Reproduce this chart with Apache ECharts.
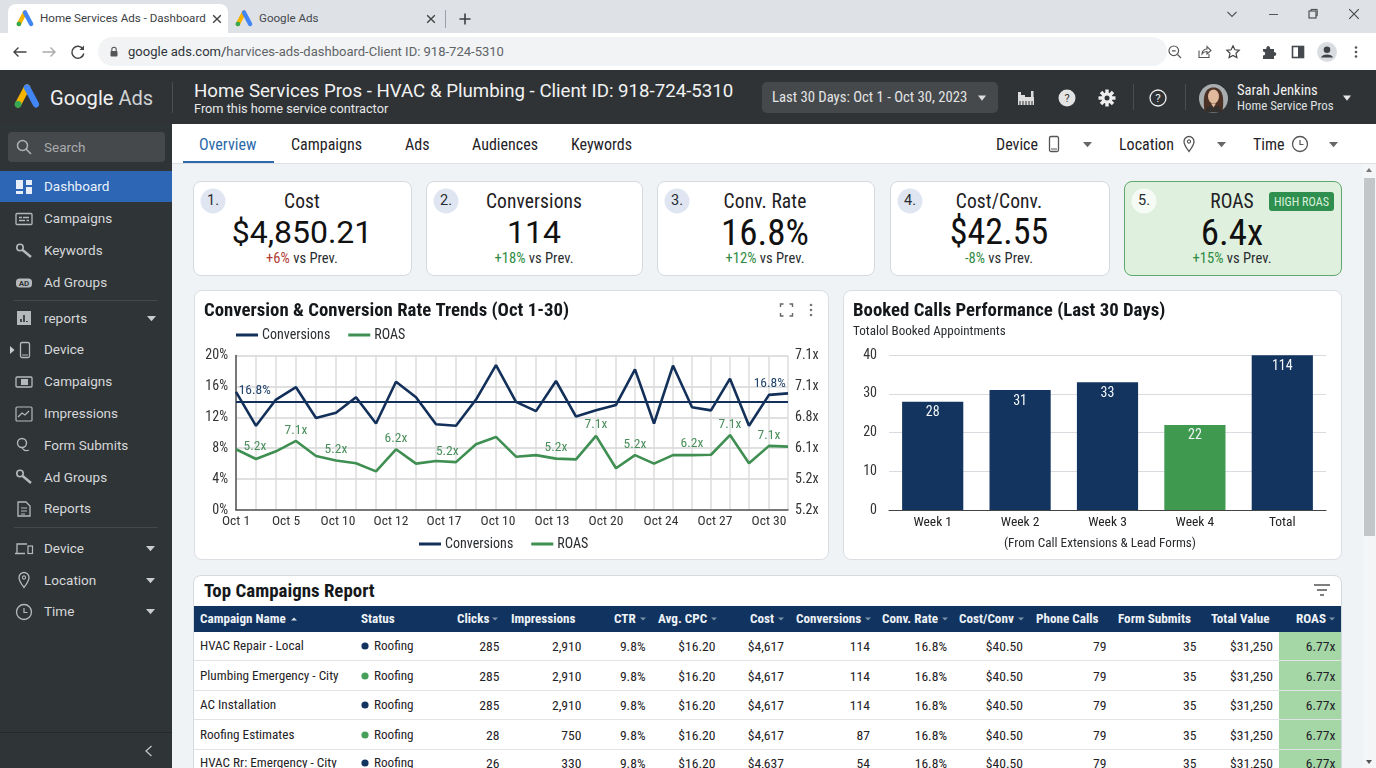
<!doctype html>
<html><head><meta charset="utf-8"><title>Home Services Ads - Dashboard</title>
<script src="https://cdn.jsdelivr.net/npm/echarts@6/dist/echarts.min.js"></script>
<style>
html,body{margin:0;padding:0;width:1376px;height:768px;overflow:hidden;background:#f0f3f5;font-family:'Roboto Condensed',Roboto,sans-serif;color:#1f2226}
.b{position:absolute;box-sizing:border-box}
.t{position:absolute;white-space:nowrap;line-height:1.2}
svg.i{position:absolute;overflow:visible;fill:none}
</style></head><body>
<div id="page"></div>
<div id="trend" class="b" style="left:194px;top:290px;width:634px;height:269px"></div>
<div id="calls" class="b" style="left:843px;top:290px;width:498px;height:269px"></div>
<script>
// ---- Line chart data
const trendTickLabels=['Oct 1','Oct 5','Oct 10','Oct 12','Oct 17','Oct 10','Oct 13','Oct 20','Oct 24','Oct 27','Oct 30'];
const trendTickPos=[0,2.5,5.1,7.75,10.4,13.1,15.8,18.5,21.25,23.95,26.65];
const samplePos=[0,1,2,3,4,5,6,7,8,9,10,11,12,13,14,15,16,17,18,19,19.95,20.9,21.85,22.8,23.75,24.7,25.65,26.65,27.6];
const conversionsValues=[15.3,10.9,14.3,15.9,11.9,12.6,14.6,11.2,16.6,14.6,11.1,10.9,14.3,18.75,14.0,12.8,16.7,12.1,12.9,13.6,18.2,11.2,18.7,13.3,12.9,17.0,10.9,14.9,15.1];
const roasValues=[7.86,6.6,7.6,8.94,7.0,6.4,6.05,5.0,7.86,6.0,6.35,6.2,8.5,9.46,6.9,7.1,6.65,6.55,9.6,5.4,7.1,6.0,7.1,7.1,7.15,9.7,6.05,8.3,8.2];
const conversionsTarget=14;
const conversionsNotes={0:'16.8%',27:'16.8%'};
const roasNotes={1:'5.2x',3:'7.1x',5:'5.2x',8:'6.2x',11:'5.2x',16:'5.2x',18:'7.1x',20:'5.2x',23:'6.2x',25:'7.1x',27:'7.1x'};
const rightAxisLabels=['5.2x','5.2x','6.1x','6.8x','7.1x','7.1x'];
// ---- Bar chart data
const weekLabels=['Week 1','Week 2','Week 3','Week 4','Total'];
const bookedCalls=[28,31,33,22,114];
// ---- KPI cards
const kpiNames=['Cost','Conversions','Conv. Rate','Cost/Conv.','ROAS'];
const kpiValues=['$4,850.21','114','16.8%','$42.55','6.4x'];
const kpiDeltas=['+6%','+18%','+12%','-8%','+15%'];
// ---- Table
const tableHeaders=['Campaign Name','Status','Clicks','Impressions','CTR','Avg. CPC','Cost','Conversions','Conv. Rate','Cost/Conv','Phone Calls','Form Submits','Total Value','ROAS'];
const campaignNames=['HVAC Repair - Local','Plumbing Emergency - City','AC Installation','Roofing Estimates','HVAC Rr: Emergency - City'];
const campaignStatus=['Roofing','Roofing','Roofing','Roofing','Roofing'];
const campaignClicks=['285','285','285','28','26'];
const campaignImpressions=['2,910','2,910','2,910','750','330'];
const campaignCTR=['9.8%','9.8%','9.8%','9.8%','9.8%'];
const campaignCPC=['$16.20','$16.20','$16.20','$16.20','$16.20'];
const campaignCost=['$4,617','$4,617','$4,617','$4,617','$4,637'];
const campaignConversions=['114','114','114','87','54'];
const campaignConvRate=['16.8%','16.8%','16.8%','16.8%','16.8%'];
const campaignCostConv=['$40.50','$40.50','$40.50','$40.50','$40.50'];
const campaignPhone=['79','79','79','79','79'];
const campaignForms=['35','35','35','35','35'];
const campaignValue=['$31,250','$31,250','$31,250','$31,250','$31,250'];
const campaignROAS=['6.77x','6.77x','6.77x','6.77x','6.77x'];
const sideItems=[['Dashboard',186.5,'dash'],['Campaigns',218.5,'card'],['Keywords',250.5,'wrench'],['Ad Groups',282.5,'ad'],['reports',318,'bars'],['Device',349.5,'phone'],['Campaigns',381.5,'screen'],['Impressions',413.5,'trend'],['Form Submits',445,'search'],['Ad Groups',477,'wrench'],['Reports',508.5,'doc'],['Device',548,'laptop'],['Location',580,'pin'],['Time',611.5,'clock']];

const page=document.getElementById('page');
const RC="'Roboto Condensed',Roboto,sans-serif",RB="Roboto,sans-serif";
function box(x,y,w,h,css){const d=document.createElement('div');d.className='b';d.style.cssText=`left:${x}px;top:${y}px;width:${w}px;height:${h}px;${css||''}`;page.appendChild(d);return d;}
function text(x,y,s,size,color,o={}){const d=document.createElement('div');d.className='t';const tx=o.align==='r'?'-100%':o.align==='c'?'-50%':'0';
 d.style.cssText=`left:${x}px;top:${y+0.7}px;transform:translate(${tx},-50%);font-size:${size}px;color:${color};font-family:${o.font||RC};font-weight:${o.weight||400};${o.css||''}`;
 if(o.html)d.innerHTML=s;else d.textContent=s;page.appendChild(d);return d;}
function svg(cx,cy,s,inner,extra){const d=document.createElementNS('http://www.w3.org/2000/svg','svg');d.setAttribute('class','i');d.setAttribute('viewBox',`-${s/2} -${s/2} ${s} ${s}`);d.style.cssText=`left:${cx-s/2}px;top:${cy-s/2}px;width:${s}px;height:${s}px;${extra||''}`;d.innerHTML=inner;page.appendChild(d);}
function caret(x,y,c='#c8cbce',w=5){svg(x,y,w*2+2,`<path d="M${-w} -2.5 L${w} -2.5 L0 2.8 Z" fill="${c}"/>`);}
function gLogo(cx,cy,k){svg(cx,cy,30,`<g transform="scale(${k})"><path d="M0 -9 L-8.5 7" stroke="#f4b400" stroke-width="6" stroke-linecap="round"/><path d="M0 -9 L8.5 7" stroke="#4285f4" stroke-width="6" stroke-linecap="round"/><circle cx="-8.5" cy="7" r="3.2" fill="#34a853"/></g>`);}
const ic=(c)=>({
 dash:`<path d="M-8 -7h7v9h-7zM2 -7h6v5h-6zM2 0h6v7h-6zM-8 4h7v3h-7z" fill="#e8eef8"/>`,
 card:`<rect x="-8" y="-5.5" width="16" height="11" rx="1" stroke="${c}" stroke-width="1.3"/><path d="M-5 -1.5h3M-1 -1.5h6M-5 1.5h6M2.5 1.5h2.5" stroke="${c}" stroke-width="1.3"/>`,
 wrench:`<circle cx="-4" cy="-3.5" r="3.2" stroke="${c}" stroke-width="1.6"/><path d="M-2 -1.5L7 6" stroke="${c}" stroke-width="2.5"/>`,
 ad:`<rect x="-8" y="-4.5" width="16" height="9" rx="3.5" fill="${c}"/><text x="0" y="3" text-anchor="middle" font-size="8" font-weight="700" fill="#2f3437" font-family="Roboto">AD</text>`,
 bars:`<rect x="-7" y="-7" width="14" height="14" fill="${c}"/><path d="M-3 4v-3M0 4v-7M3 4v-1" stroke="#2f3437" stroke-width="1.7"/>`,
 phone:`<rect x="-4.5" y="-7.5" width="9" height="15" rx="1.5" stroke="${c}" stroke-width="1.3"/><path d="M-3 5h6" stroke="${c}"/>`,
 screen:`<rect x="-8" y="-5" width="16" height="10" rx="1" stroke="${c}" stroke-width="1.3"/><rect x="-3" y="-3" width="7" height="6" fill="${c}"/>`,
 trend:`<rect x="-8" y="-7" width="16" height="14" rx="1" stroke="${c}" stroke-width="1.2"/><path d="M-6 3L-2 -1L1 1L5 -3" stroke="${c}" stroke-width="1.2"/>`,
 search:`<circle cx="-2" cy="-2" r="4.5" stroke="${c}" stroke-width="1.4"/><path d="M-2 3c2 3 5 3 7 2" stroke="${c}" stroke-width="1.2"/>`,
 doc:`<path d="M-6 -7h8l4 4v10h-12z" stroke="${c}" stroke-width="1.3"/><path d="M-3 -1h6M-3 2h6M-3 5h4" stroke="${c}" stroke-width="1.1"/>`,
 laptop:`<path d="M-7 5v-9h10M-9 5.5h10" stroke="${c}" stroke-width="1.3"/><rect x="4" y="-2" width="4.5" height="7.5" stroke="${c}" stroke-width="1.2"/>`,
 pin:`<path d="M0 7.5C-3 3.5 -5 1 -5 -2.5a5 5 0 0 1 10 0C5 1 3 3.5 0 7.5z" stroke="${c}" stroke-width="1.3"/><circle cy="-2.5" r="1.6" stroke="${c}" stroke-width="1.1"/>`,
 clock:`<circle r="7.5" stroke="${c}" stroke-width="1.3"/><path d="M0 -4V0.5H3.5" stroke="${c}" stroke-width="1.2"/>`
});

// ---- browser chrome
box(0,0,1376,34,'background:#dee1e6');
box(8,4,220,30,'background:#fff;border-radius:8px 8px 0 0');
box(0,33,1376,37,'background:#fff');
box(98,37,1069,29,'background:#f1f3f4;border-radius:15px');
gLogo(25,19,.72);gLogo(244,19,.72);
text(40,18.5,'Home Services Ads - Dashboard',11.6,'#3c4043',{font:RB});
text(259,18.5,'Google Ads',11.6,'#45494d',{font:RB});
const X=(x,y,c='#444',r=3.8,w=1.4)=>svg(x,y,12,`<path d="M${-r} ${-r}L${r} ${r}M${r} ${-r}L${-r} ${r}" stroke="${c}" stroke-width="${w}"/>`);
X(217,19);X(431,19);box(445,10,1,18,'background:#9aa0a6');
svg(465,19,14,`<path d="M-5.5 0H5.5M0 -5.5V5.5" stroke="#3c4043" stroke-width="1.6"/>`);
svg(1232,14,12,`<path d="M-4.5 -2L0 2.5L4.5 -2" stroke="#555" stroke-width="1.1"/>`);
box(1269,14,9,1.2,'background:#555');
svg(1313,14,12,`<rect x="-4" y="-3" width="7" height="7" stroke="#444" stroke-width="1.1"/><path d="M-2 -3v-1.6h6.2v6.4h-1.2" stroke="#444" stroke-width="1"/>`);
X(1354,14,'#444',4.8,1.1);
svg(20,52,16,`<path d="M6.5 0H-6M-1.5 -4.5L-6 0L-1.5 4.5" stroke="#444" stroke-width="1.4"/>`);
svg(49,52,16,`<path d="M-6.5 0H6M1.5 -4.5L6 0L1.5 4.5" stroke="#aaa" stroke-width="1.4"/>`);
svg(78,52,16,`<path d="M5 -3A6 6 0 1 0 5.8 1.5" stroke="#444" stroke-width="1.5"/><path d="M6 -6.5V-2H1.5" fill="#444"/>`);
svg(114,52,12,`<rect x="-3.5" y="-1" width="7" height="5.5" rx="1" fill="#555"/><path d="M-2.2 -1v-1.5a2.2 2.2 0 0 1 4.4 0V-1" stroke="#555" stroke-width="1.1"/>`);
text(128,51.5,'<span style="color:#30343a">google ads.com/</span>harvices-ads-dashboard-Client ID: 918-724-5310',13.03,'#5f6368',{font:RB,html:true});
svg(1175,52,16,`<circle cx="-1.2" cy="-1.2" r="4.8" stroke="#555" stroke-width="1.2"/><path d="M2.5 2.5L6 6M-3 -1.2H.7" stroke="#555" stroke-width="1.2"/>`);
svg(1204,52,16,`<path d="M-5 -1.5V5.5H5V2" stroke="#555" stroke-width="1.1"/><path d="M-2 2C-2 -1.5 1 -3 3 -3V-5.5L7 -1.5L3 2V-.5C1 -.5 -1 .5 -2 2z" stroke="#555" stroke-width="1.1"/>`);
svg(1233,52,16,`<path d="M0 -6.2L1.9 -2.2L6.2 -1.7L3 1.3L3.9 5.6L0 3.5L-3.9 5.6L-3 1.3L-6.2 -1.7L-1.9 -2.2Z" stroke="#444" stroke-width="1.2"/>`);
svg(1269,52,16,`<path d="M-6 -3h3.2c0-4 4-4 4 0H5v3c3 0 3 4 0 4v3H-6V3.5c3 0 3-4 0-4z" fill="#45494d"/>`);
svg(1298,52,16,`<rect x="-5.5" y="-5.5" width="11" height="11" stroke="#45494d" stroke-width="1.6"/><rect x="0" y="-5" width="5" height="10" fill="#45494d"/>`);
svg(1327,52,22,`<circle r="10" fill="#d9dde2"/><circle cy="-2.2" r="3.3" fill="#3f4347"/><path d="M-6 5.5c1-4 11-4 12 0z" fill="#3f4347"/>`);
svg(1356,52,12,`<circle cy="-4.5" r="1.3" fill="#555"/><circle r="1.3" fill="#555"/><circle cy="4.5" r="1.3" fill="#555"/>`);

// ---- app header
box(0,70,1376,54,'background:#2f3336');
gLogo(27,97,1.05);
text(50,97,'<span style="color:#f1f1f1">Google</span> <span style="color:#cfd2d4">Ads</span>',20.1,'#eee',{font:RB,html:true});
box(172,82,1,31,'background:#4a4e51');
text(194,90,'Home Services Pros - HVAC &amp; Plumbing - Client ID: 918-724-5310',18.68,'#f2f2f2',{font:RB,html:true});
text(194,108.7,'From this home service contractor',12.75,'#e8e8e8',{font:RB});
box(762,82,236,31,'background:#46494c;border-radius:5px');
text(772,97.5,'Last 30 Days: Oct 1 - Oct 30, 2023',14.7,'#e4e5e6');
caret(982,98,'#ddd',4);
svg(1026,98,20,`<path d="M-8 7V-3L-8 -6H-5V-3L-1 -3L-1 -1L8 -1V7Z" fill="#ddd"/><path d="M-6 3v4M-3 3v4M0 3v4M3 3v4M6 3v4" stroke="#2f3336" stroke-width="1"/><path d="M5 -7h2.5V-1H5z" fill="#ddd"/>`);
svg(1067,98,20,`<circle r="8.5" fill="#e3e3e3"/><text y="4" text-anchor="middle" font-size="11" fill="#333" font-family="Roboto">?</text>`);
svg(1107,98,20,`<g fill="#eee"><circle r="5.6"/>${[0,45,90,135].map(a=>`<rect x="-1.7" y="-8.5" width="3.4" height="17" transform="rotate(${a})"/>`).join('')}</g><circle r="2.5" fill="#2f3336"/>`);
box(1133,84,1,26,'background:#4a4e51');
svg(1158,98,20,`<circle r="8" stroke="#eee" stroke-width="1.3"/><text y="4" text-anchor="middle" font-size="11.5" fill="#eee" font-family="Roboto">?</text>`);
box(1185,84,1,26,'background:#4a4e51');
svg(1213,98,29,`<circle r="14.5" fill="#a8adb0"/><path d="M-9 13C-11 -2 -9 -11 0 -11S11 -2 9 13Z" fill="#4b3126"/><ellipse cy="-2" rx="5.5" ry="7" fill="#e0b89c"/><path d="M-9 14c1-6 5-7 9-7s8 1 9 7z" fill="#33302e"/><path d="M-2.5 5h5l-2.5 4z" fill="#e0b89c"/>`);
text(1237,90,'Sarah Jenkins',14.6,'#f1f1f1');
text(1237,105.5,'Home Service Pros',12.9,'#dfe0e1');
caret(1347,98,'#e8e8e8',4);

// ---- sidebar
box(0,124,172,644,'background:#2f3437');
box(8,132,157,30,'background:#46494c;border-radius:4px');
svg(24,147,18,`<circle cx="-1.5" cy="-1.5" r="5" stroke="#b0b3b5" stroke-width="1.5"/><path d="M2 2L7 7" stroke="#b0b3b5" stroke-width="1.6"/>`);
text(44,146.5,'Search',13.5,'#a8abad',{font:RB});
box(0,171,172,31,'background:#2c66b5');
const icons=ic('#b6b9bb');
sideItems.forEach(([label,y,icon],i)=>{svg(i==5?25:24,y,20,icons[icon]);text(44,y-1.2,label,13.5,i==0?'#eaf1fc':'#d6d8da',{font:RB});});
box(14,300,144,1,'background:#44484b');box(14,526.5,144,1,'background:#44484b');box(0,732,172,1,'background:#26292b');
caret(151,318,'#c9cbcd',4.5);caret(150,548,'#c9cbcd',4.5);caret(150,580,'#c9cbcd',4.5);caret(150,611.5,'#c9cbcd',4.5);
svg(12,349.5,8,`<path d="M-2 -4L2.5 0L-2 4Z" fill="#c9cbcd"/>`);
svg(149,751,12,`<path d="M2.5 -5L-3 0L2.5 5" stroke="#c0c2c4" stroke-width="1.3"/>`);

// ---- tab bar
box(172,124,1204,39.5,'background:#fff;border-bottom:1px solid #dde1e5');
[['Overview',199],['Campaigns',291],['Ads',405],['Audiences',472],['Keywords',571]].forEach(([s,x],i)=>text(x,143.8,s,16,i?'#1f2226':'#2a69ac'));
box(183,161,91,2,'background:#2f68ad');
const ic2=ic('#555');
text(996,143.8,'Device',16,'#1f2226');svg(1054,144,20,ic2.phone);caret(1087,144,'#666',4.5);
text(1119,143.8,'Location',16,'#1f2226');svg(1189,144,20,ic2.pin);caret(1221,144,'#666',4.5);
text(1253,143.8,'Time',16,'#1f2226');svg(1300,144,20,ic2.clock);caret(1333,144,'#666',4.5);

// ---- scrollbar
box(1363,164,13,604,'background:#f3f5f6');
box(1364,177.5,11,358.5,'background:#c3c6c8');
svg(1369,170,8,`<path d="M-3 2L0 -2L3 2Z" fill="#777"/>`);svg(1369,762,8,`<path d="M-3 -2L0 2L3 -2Z" fill="#555"/>`);

// ---- KPI cards
[[193,219],[426,217],[657,218],[890,219.5],[1124,218]].forEach(([x,w],i)=>{
 const hi=i==4,cx=[302,534,765,999,1232][i];
 box(x,181,w,94.5,`background:${hi?'#dff0de':'#fff'};border:1px solid ${hi?'#5ea86d':'#d5dadf'};border-radius:8px`);
 svg(x+20,201,26,`<circle r="12.5" fill="${hi?'#f7fbf6':'#dfe6f1'}"/>`);
 text(x+20,200.5,(i+1)+'.',14.5,'#2a2d30',{align:'c',font:RB});
 text(cx,201,kpiNames[i],19.5,'#1e2023',{align:'c',css:'letter-spacing:.1px;'});
 text(cx,i<2?231:232,kpiValues[i],i<2?32:i==3?36:37,'#111',{align:'c',font:i<2?RB:RC});
 const c=i==0?'#b23b34':'#2e8b3f';
 text(cx,258.5,`<span style="color:${c}">${kpiDeltas[i]}</span> vs Prev.`,14.6,'#2a2d30',{align:'c',html:true});
});
box(1269,192,65,19,'background:#2f8f4e;border-radius:3px');
text(1301.5,201,'HIGH ROAS',12.2,'#d8f1dc',{align:'c'});

// ---- chart cards
box(194,290,634.5,269.5,'background:#fff;border:1px solid #dadee2;border-radius:8px');
box(843,290,498.5,269.5,'background:#fff;border:1px solid #dadee2;border-radius:8px');

// ---- table
box(193,575,1148.5,220,'background:#fff;border:1px solid #d5dadf;border-radius:8px');
text(204,589.8,'Top Campaigns Report',18.9,'#15181b',{weight:700});
svg(1322,590,20,`<path d="M-8 -5H8M-5 0H5M-2 5H2" stroke="#555" stroke-width="1.5"/>`);
box(194,606,1146.5,26,'background:#10335f');
const headLeft=[200,361,457,511,614,658,750,796,882,959,1036,1118,1211,1296];
const headCaret=[293.7,0,495,0,642.7,713.5,781,867.8,944.6,1021,0,0,0,1332];
tableHeaders.forEach((h,i)=>{text(headLeft[i],618.5,h,13.15,'#eef2f7',{weight:700});
 if(headCaret[i])svg(headCaret[i],619,8,i==0?`<path d="M-3 1.5L0 -1.5L3 1.5Z" fill="#dde3ea"/>`:`<path d="M-3 -1.5L0 1.5L3 -1.5Z" fill="#7e92ab"/>`);});
const rowY=[646,675.5,705,734.5,763];
box(1279,632,61.5,136,'background:#a4d6a6');
rowY.forEach((y,r)=>{
 text(200,y-.3,campaignNames[r],13.2,'#1f2226');
 svg(365,y,8,`<circle r="3.6" fill="${r%2?'#46a05a':'#12345f'}"/>`);
 text(374,y-.3,campaignStatus[r],13.2,'#1f2226');
 [[campaignClicks,499.5],[campaignImpressions,581.5],[campaignCTR,645.5],[campaignCPC,715.5],[campaignCost,784],[campaignConversions,870],[campaignConvRate,947],[campaignCostConv,1023],[campaignPhone,1106.5],[campaignForms,1196.5],[campaignValue,1273],[campaignROAS,1335.5]]
  .forEach(([a,x])=>text(x,y-.3,a[r],13.6,'#1f2226',{align:'r'}));
 if(r<4)box(194,y+14,1146.5,1.4,'background:#e1e4e6');
});

// ---- charts
const AXC='#333',NAVY='#12305a',GREEN='#3f8f52';
const labelStyle=(notes,offs,color)=>(v,i)=>notes[i]?{value:[samplePos[i],v],label:{show:true,position:'inside',formatter:notes[i],offset:offs[i],color,fontFamily:'Roboto Condensed',fontSize:13.5}}:{value:[samplePos[i],v]};
const convOffsets={0:[18.7,-1],27:[0.7,-10.8]};
const roasOffsets={1:[-1,-12.1],3:[0,-10.8],5:[0,-11.1],8:[0,-10.5],11:[-8.7,-10.9],16:[0,-10.8],18:[0,-11],20:[0,-11],23:[0,-11.5],25:[0,-10.5],27:[0,-10.5]};
const legendBase={icon:'rect',itemWidth:22,itemHeight:3,itemGap:18,textStyle:{fontFamily:'Roboto Condensed',fontSize:14,color:'#2a2d30',padding:[0,0,0,-1]},data:['Conversions','ROAS']};
const axisFont={fontFamily:'Roboto Condensed',color:AXC};
echarts.init(document.getElementById('trend')).setOption({
 animation:false,
 title:{text:'Conversion & Conversion Rate Trends (Oct 1-30)',left:5,top:7,textStyle:{fontFamily:'Roboto Condensed',fontWeight:700,fontSize:18.8,color:'#15181b'}},
 legend:[Object.assign({left:37,top:33},legendBase),Object.assign({left:220,top:242},legendBase)],
 grid:{left:42,right:40,top:65.5,bottom:49},
 xAxis:{type:'value',min:0,max:27.6,
  axisLine:{show:true,onZero:false,lineStyle:{color:'#555',width:1.5}},
  axisTick:{show:false,customValues:samplePos},
  splitLine:{show:true,lineStyle:{color:'#dcdcdc',width:1.5}},
  axisLabel:Object.assign({customValues:trendTickPos,formatter:(v)=>trendTickLabels[trendTickPos.indexOf(v)]||'',fontSize:13.5,margin:5,hideOverlap:false},axisFont)},
 yAxis:[
  {type:'value',min:0,max:20,interval:4,axisLine:{show:true,lineStyle:{color:'#555',width:1.5}},axisTick:{show:false},splitLine:{lineStyle:{color:'#d6d6d6',width:1.5}},
   axisLabel:Object.assign({formatter:'{value}%',fontSize:14,margin:8,padding:[4,0,0,0]},axisFont)},
  {type:'category',boundaryGap:false,position:'right',data:rightAxisLabels,axisLine:{show:false},axisTick:{show:false},splitLine:{show:false},
   axisLabel:Object.assign({interval:0,fontSize:14,margin:7,padding:[4,0,0,0]},axisFont)}
 ],
 series:[
  {name:'Conversions',type:'line',symbol:'circle',symbolSize:0,itemStyle:{color:NAVY},lineStyle:{color:NAVY,width:2.6},z:4,
   data:conversionsValues.map(labelStyle(conversionsNotes,convOffsets,'#23456d')),
   markLine:{silent:true,symbol:'none',label:{show:false},lineStyle:{color:NAVY,width:1.8,type:'solid'},data:[{yAxis:conversionsTarget}]}},
  {name:'ROAS',type:'line',symbol:'circle',symbolSize:0,itemStyle:{color:GREEN},lineStyle:{color:GREEN,width:2.6},z:3,
   data:roasValues.map(labelStyle(roasNotes,roasOffsets,'#4a8f5b'))}
 ]
});
echarts.init(document.getElementById('calls')).setOption({
 animation:false,
 title:{text:'Booked Calls Performance (Last 30 Days)',subtext:'Totalol Booked Appointments',left:5,top:7,itemGap:4,
  textStyle:{fontFamily:'Roboto Condensed',fontWeight:700,fontSize:18.8,color:'#15181b'},
  subtextStyle:{fontFamily:'Roboto Condensed',fontSize:13.1,color:'#2a2d30'}},
 grid:{left:46,right:15,top:65.3,bottom:49},
 xAxis:{type:'category',data:weekLabels,axisTick:{show:false},axisLine:{lineStyle:{color:'#444',width:1.2}},
  name:'(From Call Extensions & Lead Forms)',nameLocation:'middle',nameGap:27,nameTextStyle:{fontFamily:'Roboto Condensed',fontSize:13.2,color:'#2a2d30',padding:[0,15,0,0]},
  axisLabel:{color:'#222',fontFamily:'Roboto Condensed',fontSize:13.5,margin:6,interval:0}},
 yAxis:{type:'value',min:0,max:40,interval:10,axisLine:{show:false},axisTick:{show:false},splitLine:{lineStyle:{color:'#d8dce0',width:1.2}},
  axisLabel:Object.assign({fontSize:14,margin:12,padding:[4,0,0,0]},axisFont)},
 series:[{type:'bar',barWidth:'70%',itemStyle:{color:'#12345f'},
  data:bookedCalls.map((v,i)=>i==3?{value:v,itemStyle:{color:'#3f9a50'}}:v),
  label:{show:true,position:'insideTop',distance:4,color:'#f2f5f8',fontFamily:'Roboto Condensed',fontSize:14}}]
});
// window icons above the chart
const over=document.createElementNS('http://www.w3.org/2000/svg','svg');over.setAttribute('class','i');over.setAttribute('viewBox','0 0 40 20');over.style.cssText='left:776px;top:300px;width:40px;height:20px;z-index:5';
over.innerHTML=`<path d="M4.5 7V4H7.5M13.5 4H16.5V7M16.5 13V16H13.5M7.5 16H4.5V13" stroke="#666" stroke-width="1.4"/><circle cx="35" cy="5" r="1.3" fill="#777"/><circle cx="35" cy="10" r="1.3" fill="#777"/><circle cx="35" cy="15" r="1.3" fill="#777"/>`;
document.body.appendChild(over);
</script></body></html>
